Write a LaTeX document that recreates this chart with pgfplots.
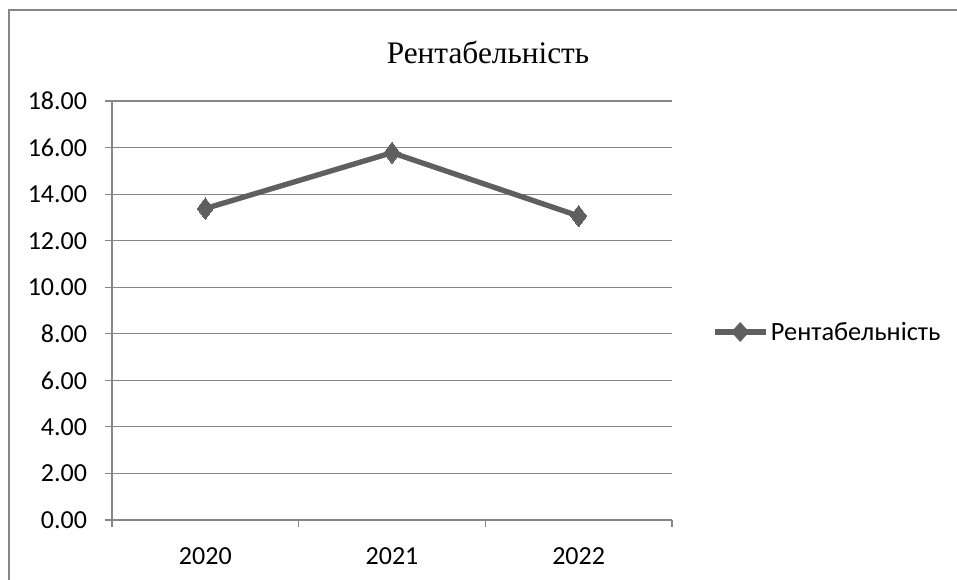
\documentclass[border=0pt]{standalone}
\usepackage{pgfplots}
\pgfplotsset{compat=1.18}
\usepackage{fontspec}
\setmainfont{Liberation Serif}
\newfontfamily\carlito{Carlito}
\definecolor{axgray}{HTML}{868686}
\definecolor{serie}{HTML}{5F5F5F}
\begin{document}
\begin{tikzpicture}[x=0.75pt,y=0.75pt]
\useasboundingbox (0,0) rectangle (957,579);
\draw[axgray,line width=1.1pt] (9,-5) -- (9,569) -- (962,569);
\node[font=\fontsize{23.5}{27}\selectfont] at (488,527) {Рентабельність};
\begin{axis}[
  at={(84pt,44.25pt)}, anchor=south west,
  scale only axis, width=420pt, height=314.25pt,
  xmin=-0.5, xmax=2.5, ymin=0, ymax=18,
  axis x line*=bottom, axis y line*=left,
  axis line style={axgray, line width=0.9pt},
  xtick={0,1,2}, xticklabels={2020,2021,2022},
  minor xtick={-0.5,0.5,1.5,2.5},
  ytick={0,2,...,18},
  ymajorgrids, major grid style={axgray, line width=0.9pt},
  tick align=outside,
  major x tick style={draw=none},
  minor x tick style={axgray, line width=0.9pt},
  major y tick style={axgray, line width=0.9pt},
  major tick length=5.5pt, minor tick length=5.5pt,
  /pgf/number format/assume math mode=true,
  tick label style={font=\carlito\fontsize{19.5}{23}\selectfont, text=black},
  yticklabel={\pgfmathprintnumber[fixed,fixed zerofill,precision=2]{\tick}},
  yticklabel style={inner sep=0pt, xshift=-13pt},
  xticklabel style={inner sep=0pt, yshift=-15pt},
  legend style={at={(1.0714,0.4487)}, anchor=west, draw=none, fill=none, inner sep=0pt,
    font=\carlito\fontsize{19.75}{23}\selectfont},
  legend cell align=left,
  legend image code/.code={
    \draw[serie, line width=4pt] (0pt,0pt) -- (38pt,0pt);
    \fill[serie] (19pt,4.5pt) -- (23pt,0pt) -- (19pt,-4.5pt) -- (15pt,0pt) -- cycle;
  },
  clip=false,
]
\addplot[serie, line width=4pt, mark=diamond*, mark size=8pt,
  mark options={solid, fill=serie, draw=serie, line width=0pt}]
  coordinates {(0,13.38) (1,15.78) (2,13.06)};
\addlegendentry{Рентабельність}
\end{axis}
\end{tikzpicture}
\end{document}
